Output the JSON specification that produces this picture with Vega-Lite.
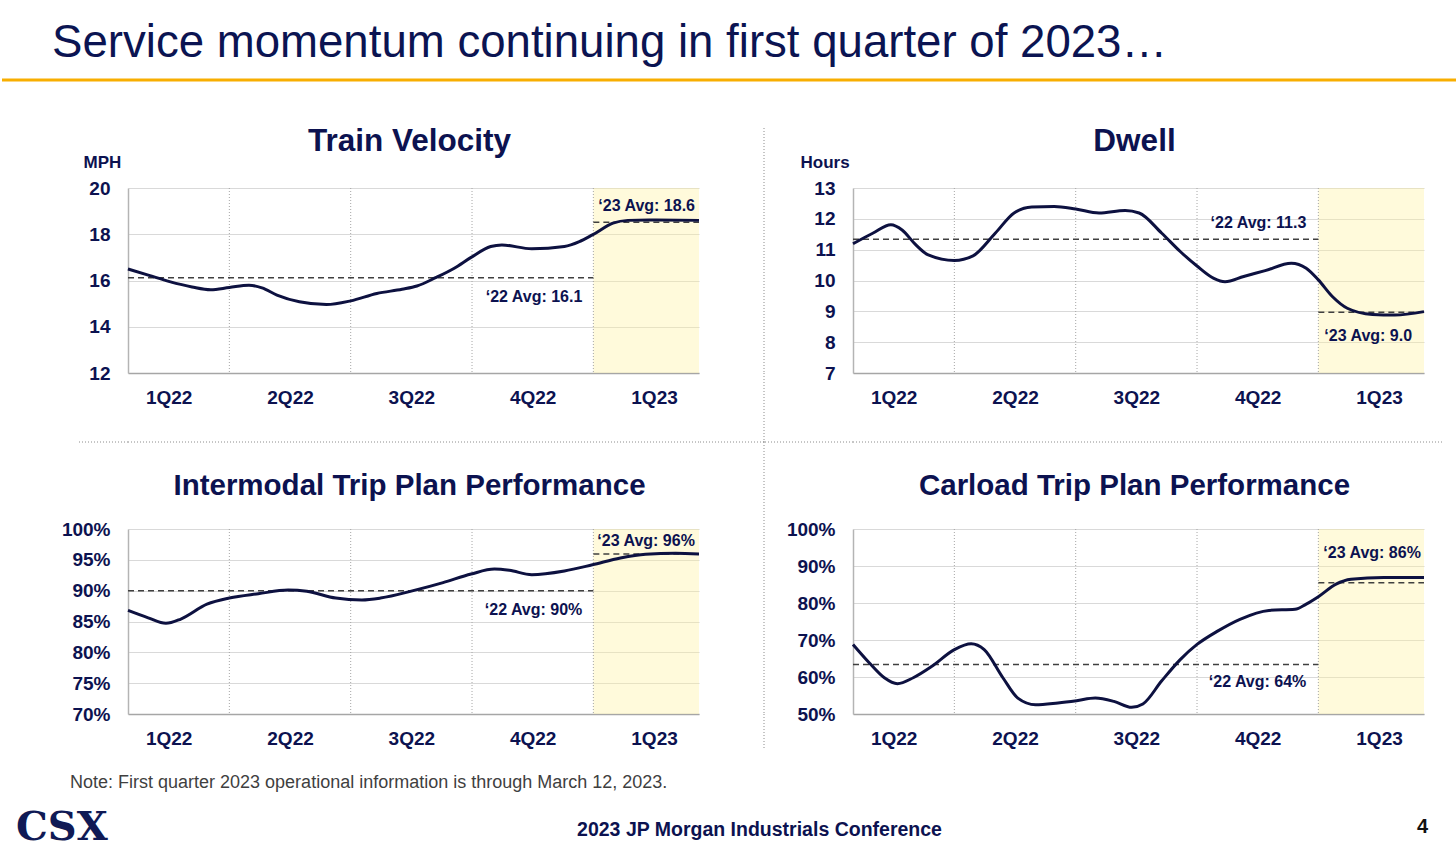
{
  "$schema": "https://vega.github.io/schema/vega-lite/v6.json",
  "padding": 0,
  "background": "white",
  "columns": 9,
  "spacing": 0,
  "bounds": "flush",
  "align": "each",
  "config": {
    "font": "Liberation Sans",
    "view": {"stroke": null},
    "title": {"frame": "group", "baseline": "alphabetic", "color": "#0c1250"},
    "axis": {"ticks": false, "labelFontSize": 19, "labelFontWeight": "bold", "labelColor": "#0c1250", "labelFlush": false, "labelOverlap": false, "domainWidth": 1.5},
    "axisX": {"grid": false, "domainColor": "#a6a6a6", "labelPadding": 15},
    "axisY": {"grid": true, "gridColor": "#d9d9d9", "gridWidth": 1, "domainColor": "#b4b4b4", "labelPadding": 18, "titleAngle": 0, "titleAlign": "left", "titleBaseline": "middle", "titleFontSize": 17, "titleFontWeight": "bold", "titleColor": "#0c1250"}
  },
  "datasets": {
    "quarters": [{"boundary": 13}, {"boundary": 26}, {"boundary": 39}, {"boundary": 52}],
    "shade": [{"period": "1Q23", "start": 52, "end": 63.32}],
    "vel": [
      {"week": 2.14, "value": 16.5}, {"week": 4.4, "value": 16.22}, {"week": 6.6, "value": 15.95}, {"week": 9.0, "value": 15.72},
      {"week": 11.0, "value": 15.6}, {"week": 13.0, "value": 15.7}, {"week": 15.1, "value": 15.8}, {"week": 16.5, "value": 15.68},
      {"week": 18.1, "value": 15.37}, {"week": 20.5, "value": 15.08}, {"week": 23.4, "value": 14.96}, {"week": 26.0, "value": 15.12},
      {"week": 28.8, "value": 15.44}, {"week": 31.5, "value": 15.62}, {"week": 33.1, "value": 15.76}, {"week": 35.1, "value": 16.12},
      {"week": 37.1, "value": 16.53}, {"week": 38.9, "value": 17.0}, {"week": 41.0, "value": 17.47}, {"week": 42.2, "value": 17.54},
      {"week": 45.4, "value": 17.37}, {"week": 48.9, "value": 17.47}, {"week": 50.5, "value": 17.68}, {"week": 51.9, "value": 17.97},
      {"week": 54.1, "value": 18.48}, {"week": 55.7, "value": 18.6}, {"week": 58.0, "value": 18.62}, {"week": 63.32, "value": 18.6}
    ],
    "vel_avg": [
      {"period": "2022", "label": "‘22 Avg: 16.1", "start": 2.14, "end": 52, "value": 16.12},
      {"period": "2023", "label": "‘23 Avg: 18.6", "start": 52, "end": 63.32, "value": 18.52}
    ],
    "dwell": [
      {"week": 2.14, "value": 11.19}, {"week": 4.3, "value": 11.54}, {"week": 6.2, "value": 11.81}, {"week": 7.4, "value": 11.64},
      {"week": 8.8, "value": 11.18}, {"week": 10.2, "value": 10.83}, {"week": 13.0, "value": 10.65}, {"week": 15.0, "value": 10.8},
      {"week": 17.4, "value": 11.54}, {"week": 19.4, "value": 12.19}, {"week": 21.3, "value": 12.38}, {"week": 23.7, "value": 12.4},
      {"week": 26.0, "value": 12.32}, {"week": 28.5, "value": 12.19}, {"week": 31.3, "value": 12.27}, {"week": 32.8, "value": 12.19},
      {"week": 35.2, "value": 11.54}, {"week": 37.2, "value": 10.94}, {"week": 39.0, "value": 10.47}, {"week": 40.8, "value": 10.07},
      {"week": 42.0, "value": 9.96}, {"week": 44.0, "value": 10.13}, {"week": 46.3, "value": 10.32}, {"week": 49.1, "value": 10.56},
      {"week": 50.7, "value": 10.4}, {"week": 52.0, "value": 10.02}, {"week": 53.5, "value": 9.48}, {"week": 55.1, "value": 9.1},
      {"week": 57.8, "value": 8.9}, {"week": 60.2, "value": 8.88}, {"week": 63.32, "value": 8.99}
    ],
    "dwell_avg": [
      {"period": "2022", "label": "‘22 Avg: 11.3", "start": 2.14, "end": 52, "value": 11.34},
      {"period": "2023", "label": "‘23 Avg: 9.0", "start": 52, "end": 63.32, "value": 8.97}
    ],
    "im": [
      {"week": 2.14, "value": 86.8}, {"week": 4.3, "value": 85.6}, {"week": 6.2, "value": 84.7}, {"week": 7.8, "value": 85.4},
      {"week": 10.6, "value": 87.8}, {"week": 13.0, "value": 88.8}, {"week": 16.1, "value": 89.5}, {"week": 19.3, "value": 90.1},
      {"week": 21.3, "value": 89.9}, {"week": 24.4, "value": 88.8}, {"week": 27.2, "value": 88.5}, {"week": 29.2, "value": 88.8},
      {"week": 32.7, "value": 90.0}, {"week": 35.9, "value": 91.3}, {"week": 38.9, "value": 92.7}, {"week": 41.4, "value": 93.5},
      {"week": 43.0, "value": 93.3}, {"week": 45.4, "value": 92.6}, {"week": 48.9, "value": 93.2}, {"week": 51.9, "value": 94.2},
      {"week": 54.9, "value": 95.3}, {"week": 57.6, "value": 95.9}, {"week": 60.8, "value": 96.05}, {"week": 63.32, "value": 95.95}
    ],
    "im_avg": [
      {"period": "2022", "label": "‘22 Avg: 90%", "start": 2.14, "end": 52, "value": 90.0},
      {"period": "2023", "label": "‘23 Avg: 96%", "start": 52, "end": 63.32, "value": 95.95}
    ],
    "cl": [
      {"week": 2.14, "value": 68.8}, {"week": 3.9, "value": 63.8}, {"week": 5.5, "value": 59.8}, {"week": 6.9, "value": 58.2},
      {"week": 8.6, "value": 59.8}, {"week": 10.6, "value": 62.9}, {"week": 13.0, "value": 67.4}, {"week": 14.8, "value": 69.0},
      {"week": 16.2, "value": 67.4}, {"week": 18.2, "value": 59.8}, {"week": 19.8, "value": 54.3}, {"week": 21.7, "value": 52.5},
      {"week": 24.1, "value": 53.0}, {"week": 26.1, "value": 53.6}, {"week": 28.1, "value": 54.3}, {"week": 30.1, "value": 53.4},
      {"week": 32.0, "value": 51.8}, {"week": 33.2, "value": 52.7}, {"week": 35.2, "value": 58.9}, {"week": 37.2, "value": 64.7},
      {"week": 39.0, "value": 68.8}, {"week": 41.2, "value": 72.4}, {"week": 43.6, "value": 75.6}, {"week": 46.7, "value": 78.0},
      {"week": 49.5, "value": 78.3}, {"week": 50.7, "value": 79.7}, {"week": 52.0, "value": 81.7}, {"week": 53.9, "value": 85.1},
      {"week": 55.5, "value": 86.4}, {"week": 59.0, "value": 86.9}, {"week": 63.32, "value": 86.9}
    ],
    "cl_avg": [
      {"period": "2022", "label": "‘22 Avg: 64%", "start": 2.14, "end": 52, "value": 63.4},
      {"period": "2023", "label": "‘23 Avg: 86%", "start": 52, "end": 63.32, "value": 85.5}
    ]
  },
  "concat": [
    {"width": 75, "height": 80, "data": {"values": [{"line": "header"}]}, "mark": {"type": "rule", "color": "#f8ae00", "strokeWidth": 3}, "encoding": {"y": {"datum": 0, "type": "quantitative", "scale": {"domain": [0, 1]}, "axis": null}},
     "title": {"text": "Service momentum continuing in first quarter of 2023…", "fontSize": 45.6, "fontWeight": "normal", "anchor": "start", "orient": "top", "baseline": "alphabetic", "offset": -102.6, "dx": 50, "color": "#0b1452"}},
    {"width": 51, "height": 80, "data": {"values": [{"line": "header"}]}, "mark": {"type": "rule", "color": "#f8ae00", "strokeWidth": 3}, "encoding": {"y": {"datum": 0, "type": "quantitative", "scale": {"domain": [0, 1]}, "axis": null}}},
    {"width": 571, "height": 80, "data": {"values": [{"line": "header"}]}, "mark": {"type": "rule", "color": "#f8ae00", "strokeWidth": 3}, "encoding": {"y": {"datum": 0, "type": "quantitative", "scale": {"domain": [0, 1]}, "axis": null}}},
    {"width": 65, "height": 80, "data": {"values": [{"line": "header"}]}, "mark": {"type": "rule", "color": "#f8ae00", "strokeWidth": 3}, "encoding": {"y": {"datum": 0, "type": "quantitative", "scale": {"domain": [0, 1]}, "axis": null}}},
    {"width": 1, "height": 80, "data": {"values": [{"line": "header"}]}, "mark": {"type": "rule", "color": "#f8ae00", "strokeWidth": 3}, "encoding": {"y": {"datum": 0, "type": "quantitative", "scale": {"domain": [0, 1]}, "axis": null}}},
    {"width": 88, "height": 80, "data": {"values": [{"line": "header"}]}, "mark": {"type": "rule", "color": "#f8ae00", "strokeWidth": 3}, "encoding": {"y": {"datum": 0, "type": "quantitative", "scale": {"domain": [0, 1]}, "axis": null}}},
    {"width": 571, "height": 80, "data": {"values": [{"line": "header"}]}, "mark": {"type": "rule", "color": "#f8ae00", "strokeWidth": 3}, "encoding": {"y": {"datum": 0, "type": "quantitative", "scale": {"domain": [0, 1]}, "axis": null}}},
    {"width": 18, "height": 80, "data": {"values": [{"line": "header"}]}, "mark": {"type": "rule", "color": "#f8ae00", "strokeWidth": 3}, "encoding": {"y": {"datum": 0, "type": "quantitative", "scale": {"domain": [0, 1]}, "axis": null}}},
    {"width": 16, "height": 80, "data": {"values": [{"line": "header"}]}, "mark": {"type": "rule", "color": "#f8ae00", "strokeWidth": 3}, "encoding": {"y": {"datum": 0, "type": "quantitative", "scale": {"domain": [0, 1]}, "axis": null}}},

    {"width": 1, "height": 1, "data": {"values": []}, "mark": "point"},
    {"width": 1, "height": 1, "data": {"values": []}, "mark": "point"},
    {"width": 1, "height": 1, "data": {"values": []}, "mark": "point"},
    {"width": 1, "height": 1, "data": {"values": []}, "mark": "point"},
    {"width": 1, "height": 48, "data": {"values": []}, "mark": "point"},
    {"width": 1, "height": 1, "data": {"values": []}, "mark": "point"},
    {"width": 1, "height": 1, "data": {"values": []}, "mark": "point"},
    {"width": 1, "height": 1, "data": {"values": []}, "mark": "point"},
    {"width": 1, "height": 1, "data": {"values": []}, "mark": "point"},

    {"width": 1, "height": 1, "data": {"values": []}, "mark": "point"},
    {"width": 1, "height": 1, "data": {"values": []}, "mark": "point"},
    {"width": 1, "height": 1, "data": {"values": []}, "mark": "point"},
    {"width": 1, "height": 1, "data": {"values": []}, "mark": "point"},
    {"width": 1, "height": 60, "data": {"values": [{"separator": "vertical"}]}, "mark": {"type": "rule", "color": "#8c8c8c", "strokeDash": [1, 2], "strokeWidth": 1}, "encoding": {"x": {"datum": 0, "type": "quantitative", "scale": {"domain": [0, 1]}, "axis": null}}},
    {"width": 1, "height": 1, "data": {"values": []}, "mark": "point"},
    {"width": 1, "height": 1, "data": {"values": []}, "mark": "point"},
    {"width": 1, "height": 1, "data": {"values": []}, "mark": "point"},
    {"width": 1, "height": 1, "data": {"values": []}, "mark": "point"},

    {"width": 1, "height": 1, "data": {"values": []}, "mark": "point"},
    {"width": 1, "height": 1, "data": {"values": []}, "mark": "point"},
    {
      "width": 571, "height": 185,
      "title": {"text": "Train Velocity", "fontSize": 31.5, "fontWeight": "bold", "anchor": "middle", "baseline": "alphabetic", "offset": -29, "dx": -4},
      "layer": [
        {"data": {"name": "shade"}, "mark": {"type": "rect", "color": "#fff3a0", "opacity": 0.38},
         "encoding": {"x": {"field": "start", "type": "quantitative", "scale": {"domain": [2.14, 63.32], "nice": false, "zero": false},
           "axis": {"title": null, "values": [6.5, 19.5, 32.5, 45.5, 58.5], "labelExpr": "['1Q22','2Q22','3Q22','4Q22','1Q23'][floor(datum.value/13)]"}},
           "x2": {"field": "end"}}},
        {"data": {"name": "quarters"}, "mark": {"type": "rule", "color": "#a6a6a6", "strokeDash": [1, 2], "strokeWidth": 1},
         "encoding": {"x": {"field": "boundary", "type": "quantitative"}}},
        {"data": {"name": "vel_avg"}, "mark": {"type": "rule", "color": "#404040", "strokeDash": [6, 4], "strokeWidth": 1.5},
         "encoding": {"x": {"field": "start", "type": "quantitative"}, "x2": {"field": "end"},
           "y": {"field": "value", "type": "quantitative", "scale": {"domain": [12, 20], "nice": false, "zero": false},
             "axis": {"title": "MPH", "titleX": -45, "titleY": -26, "values": [12, 14, 16, 18, 20], "tickCount": 20, "format": "d"}}}},
        {"data": {"name": "vel"}, "mark": {"type": "line", "color": "#0d1140", "strokeWidth": 3, "interpolate": "monotone"},
         "encoding": {"x": {"field": "week", "type": "quantitative"}, "y": {"field": "value", "type": "quantitative", "scale": {"domain": [12, 20], "nice": false, "zero": false}}}},
        {"data": {"name": "vel_avg"}, "transform": [{"filter": "datum.period == '2022'"}],
         "mark": {"type": "text", "align": "right", "baseline": "middle", "dx": -11, "dy": 19, "fontSize": 16, "fontWeight": "bold", "color": "#0c1250"},
         "encoding": {"x": {"field": "end", "type": "quantitative"}, "y": {"field": "value", "type": "quantitative"}, "text": {"field": "label"}}},
        {"data": {"name": "vel_avg"}, "transform": [{"filter": "datum.period == '2023'"}],
         "mark": {"type": "text", "align": "left", "baseline": "middle", "dx": 5, "dy": -16, "fontSize": 16, "fontWeight": "bold", "color": "#0c1250"},
         "encoding": {"x": {"field": "start", "type": "quantitative"}, "y": {"field": "value", "type": "quantitative"}, "text": {"field": "label"}}}
      ]
    },
    {"width": 1, "height": 1, "data": {"values": []}, "mark": "point"},
    {"width": 1, "height": 185, "data": {"values": [{"separator": "vertical"}]}, "mark": {"type": "rule", "color": "#8c8c8c", "strokeDash": [1, 2], "strokeWidth": 1}, "encoding": {"x": {"datum": 0, "type": "quantitative", "scale": {"domain": [0, 1]}, "axis": null}}},
    {"width": 1, "height": 1, "data": {"values": []}, "mark": "point"},
    {
      "width": 571, "height": 185,
      "title": {"text": "Dwell", "fontSize": 31.5, "fontWeight": "bold", "anchor": "middle", "baseline": "alphabetic", "offset": -29, "dx": -4},
      "layer": [
        {"data": {"name": "shade"}, "mark": {"type": "rect", "color": "#fff3a0", "opacity": 0.38},
         "encoding": {"x": {"field": "start", "type": "quantitative", "scale": {"domain": [2.14, 63.32], "nice": false, "zero": false},
           "axis": {"title": null, "values": [6.5, 19.5, 32.5, 45.5, 58.5], "labelExpr": "['1Q22','2Q22','3Q22','4Q22','1Q23'][floor(datum.value/13)]"}},
           "x2": {"field": "end"}}},
        {"data": {"name": "quarters"}, "mark": {"type": "rule", "color": "#a6a6a6", "strokeDash": [1, 2], "strokeWidth": 1},
         "encoding": {"x": {"field": "boundary", "type": "quantitative"}}},
        {"data": {"name": "dwell_avg"}, "mark": {"type": "rule", "color": "#404040", "strokeDash": [6, 4], "strokeWidth": 1.5},
         "encoding": {"x": {"field": "start", "type": "quantitative"}, "x2": {"field": "end"},
           "y": {"field": "value", "type": "quantitative", "scale": {"domain": [7, 13], "nice": false, "zero": false},
             "axis": {"title": "Hours", "titleX": -53, "titleY": -26, "values": [7, 8, 9, 10, 11, 12, 13], "tickCount": 20, "format": "d"}}}},
        {"data": {"name": "dwell"}, "mark": {"type": "line", "color": "#0d1140", "strokeWidth": 3, "interpolate": "monotone"},
         "encoding": {"x": {"field": "week", "type": "quantitative"}, "y": {"field": "value", "type": "quantitative", "scale": {"domain": [7, 13], "nice": false, "zero": false}}}},
        {"data": {"name": "dwell_avg"}, "transform": [{"filter": "datum.period == '2022'"}],
         "mark": {"type": "text", "align": "right", "baseline": "middle", "dx": -12, "dy": -16, "fontSize": 16, "fontWeight": "bold", "color": "#0c1250"},
         "encoding": {"x": {"field": "end", "type": "quantitative"}, "y": {"field": "value", "type": "quantitative"}, "text": {"field": "label"}}},
        {"data": {"name": "dwell_avg"}, "transform": [{"filter": "datum.period == '2023'"}],
         "mark": {"type": "text", "align": "left", "baseline": "middle", "dx": 6, "dy": 24, "fontSize": 16, "fontWeight": "bold", "color": "#0c1250"},
         "encoding": {"x": {"field": "start", "type": "quantitative"}, "y": {"field": "value", "type": "quantitative"}, "text": {"field": "label"}}}
      ]
    },
    {"width": 1, "height": 1, "data": {"values": []}, "mark": "point"},
    {"width": 1, "height": 1, "data": {"values": []}, "mark": "point"},

    {"width": 1, "height": 1, "data": {"values": []}, "mark": "point"},
    {"width": 1, "height": 1, "data": {"values": []}, "mark": "point"},
    {"width": 1, "height": 1, "data": {"values": []}, "mark": "point"},
    {"width": 1, "height": 1, "data": {"values": []}, "mark": "point"},
    {"width": 1, "height": 68, "data": {"values": [{"separator": "vertical"}]}, "mark": {"type": "rule", "color": "#8c8c8c", "strokeDash": [1, 2], "strokeWidth": 1}, "encoding": {"x": {"datum": 0, "type": "quantitative", "scale": {"domain": [0, 1]}, "axis": null}}},
    {"width": 1, "height": 1, "data": {"values": []}, "mark": "point"},
    {"width": 1, "height": 1, "data": {"values": []}, "mark": "point"},
    {"width": 1, "height": 1, "data": {"values": []}, "mark": "point"},
    {"width": 1, "height": 1, "data": {"values": []}, "mark": "point"},

    {"width": 1, "height": 1, "data": {"values": []}, "mark": "point"},
    {"width": 51, "height": 1, "data": {"values": [{"separator": "horizontal"}]}, "mark": {"type": "rule", "color": "#8c8c8c", "strokeDash": [1, 2], "strokeWidth": 1}, "encoding": {"y": {"datum": 0, "type": "quantitative", "scale": {"domain": [0, 1]}, "axis": null}}},
    {"width": 571, "height": 1, "data": {"values": [{"separator": "horizontal"}]}, "mark": {"type": "rule", "color": "#8c8c8c", "strokeDash": [1, 2], "strokeWidth": 1}, "encoding": {"y": {"datum": 0, "type": "quantitative", "scale": {"domain": [0, 1]}, "axis": null}}},
    {"width": 65, "height": 1, "data": {"values": [{"separator": "horizontal"}]}, "mark": {"type": "rule", "color": "#8c8c8c", "strokeDash": [1, 2], "strokeWidth": 1}, "encoding": {"y": {"datum": 0, "type": "quantitative", "scale": {"domain": [0, 1]}, "axis": null}}},
    {"width": 1, "height": 1, "data": {"values": [{"separator": "vertical"}]}, "mark": {"type": "rule", "color": "#8c8c8c", "strokeDash": [1, 2], "strokeWidth": 1}, "encoding": {"x": {"datum": 0, "type": "quantitative", "scale": {"domain": [0, 1]}, "axis": null}}},
    {"width": 88, "height": 1, "data": {"values": [{"separator": "horizontal"}]}, "mark": {"type": "rule", "color": "#8c8c8c", "strokeDash": [1, 2], "strokeWidth": 1}, "encoding": {"y": {"datum": 0, "type": "quantitative", "scale": {"domain": [0, 1]}, "axis": null}}},
    {"width": 571, "height": 1, "data": {"values": [{"separator": "horizontal"}]}, "mark": {"type": "rule", "color": "#8c8c8c", "strokeDash": [1, 2], "strokeWidth": 1}, "encoding": {"y": {"datum": 0, "type": "quantitative", "scale": {"domain": [0, 1]}, "axis": null}}},
    {"width": 18, "height": 1, "data": {"values": [{"separator": "horizontal"}]}, "mark": {"type": "rule", "color": "#8c8c8c", "strokeDash": [1, 2], "strokeWidth": 1}, "encoding": {"y": {"datum": 0, "type": "quantitative", "scale": {"domain": [0, 1]}, "axis": null}}},
    {"width": 1, "height": 1, "data": {"values": []}, "mark": "point"},

    {"width": 1, "height": 1, "data": {"values": []}, "mark": "point"},
    {"width": 1, "height": 1, "data": {"values": []}, "mark": "point"},
    {"width": 1, "height": 1, "data": {"values": []}, "mark": "point"},
    {"width": 1, "height": 1, "data": {"values": []}, "mark": "point"},
    {"width": 1, "height": 87, "data": {"values": [{"separator": "vertical"}]}, "mark": {"type": "rule", "color": "#8c8c8c", "strokeDash": [1, 2], "strokeWidth": 1}, "encoding": {"x": {"datum": 0, "type": "quantitative", "scale": {"domain": [0, 1]}, "axis": null}}},
    {"width": 1, "height": 1, "data": {"values": []}, "mark": "point"},
    {"width": 1, "height": 1, "data": {"values": []}, "mark": "point"},
    {"width": 1, "height": 1, "data": {"values": []}, "mark": "point"},
    {"width": 1, "height": 1, "data": {"values": []}, "mark": "point"},

    {"width": 1, "height": 1, "data": {"values": []}, "mark": "point"},
    {"width": 1, "height": 1, "data": {"values": []}, "mark": "point"},
    {
      "width": 571, "height": 185,
      "title": {"text": "Intermodal Trip Plan Performance", "fontSize": 29.5, "fontWeight": "bold", "anchor": "middle", "baseline": "alphabetic", "offset": -4, "dx": -4},
      "layer": [
        {"data": {"name": "shade"}, "mark": {"type": "rect", "color": "#fff3a0", "opacity": 0.38},
         "encoding": {"x": {"field": "start", "type": "quantitative", "scale": {"domain": [2.14, 63.32], "nice": false, "zero": false},
           "axis": {"title": null, "values": [6.5, 19.5, 32.5, 45.5, 58.5], "labelExpr": "['1Q22','2Q22','3Q22','4Q22','1Q23'][floor(datum.value/13)]"}},
           "x2": {"field": "end"}}},
        {"data": {"name": "quarters"}, "mark": {"type": "rule", "color": "#a6a6a6", "strokeDash": [1, 2], "strokeWidth": 1},
         "encoding": {"x": {"field": "boundary", "type": "quantitative"}}},
        {"data": {"name": "im_avg"}, "mark": {"type": "rule", "color": "#404040", "strokeDash": [6, 4], "strokeWidth": 1.5},
         "encoding": {"x": {"field": "start", "type": "quantitative"}, "x2": {"field": "end"},
           "y": {"field": "value", "type": "quantitative", "scale": {"domain": [70, 100], "nice": false, "zero": false},
             "axis": {"title": null, "values": [70, 75, 80, 85, 90, 95, 100], "tickCount": 20, "labelExpr": "datum.value + '%'"}}}},
        {"data": {"name": "im"}, "mark": {"type": "line", "color": "#0d1140", "strokeWidth": 3, "interpolate": "monotone"},
         "encoding": {"x": {"field": "week", "type": "quantitative"}, "y": {"field": "value", "type": "quantitative", "scale": {"domain": [70, 100], "nice": false, "zero": false}}}},
        {"data": {"name": "im_avg"}, "transform": [{"filter": "datum.period == '2022'"}],
         "mark": {"type": "text", "align": "right", "baseline": "middle", "dx": -11, "dy": 19, "fontSize": 16, "fontWeight": "bold", "color": "#0c1250"},
         "encoding": {"x": {"field": "end", "type": "quantitative"}, "y": {"field": "value", "type": "quantitative"}, "text": {"field": "label"}}},
        {"data": {"name": "im_avg"}, "transform": [{"filter": "datum.period == '2023'"}],
         "mark": {"type": "text", "align": "left", "baseline": "middle", "dx": 4, "dy": -13, "fontSize": 16, "fontWeight": "bold", "color": "#0c1250"},
         "encoding": {"x": {"field": "start", "type": "quantitative"}, "y": {"field": "value", "type": "quantitative"}, "text": {"field": "label"}}}
      ]
    },
    {"width": 1, "height": 1, "data": {"values": []}, "mark": "point"},
    {"width": 1, "height": 185, "data": {"values": [{"separator": "vertical"}]}, "mark": {"type": "rule", "color": "#8c8c8c", "strokeDash": [1, 2], "strokeWidth": 1}, "encoding": {"x": {"datum": 0, "type": "quantitative", "scale": {"domain": [0, 1]}, "axis": null}}},
    {"width": 1, "height": 1, "data": {"values": []}, "mark": "point"},
    {
      "width": 571, "height": 185,
      "title": {"text": "Carload Trip Plan Performance", "fontSize": 29.5, "fontWeight": "bold", "anchor": "middle", "baseline": "alphabetic", "offset": -4, "dx": -4},
      "layer": [
        {"data": {"name": "shade"}, "mark": {"type": "rect", "color": "#fff3a0", "opacity": 0.38},
         "encoding": {"x": {"field": "start", "type": "quantitative", "scale": {"domain": [2.14, 63.32], "nice": false, "zero": false},
           "axis": {"title": null, "values": [6.5, 19.5, 32.5, 45.5, 58.5], "labelExpr": "['1Q22','2Q22','3Q22','4Q22','1Q23'][floor(datum.value/13)]"}},
           "x2": {"field": "end"}}},
        {"data": {"name": "quarters"}, "mark": {"type": "rule", "color": "#a6a6a6", "strokeDash": [1, 2], "strokeWidth": 1},
         "encoding": {"x": {"field": "boundary", "type": "quantitative"}}},
        {"data": {"name": "cl_avg"}, "mark": {"type": "rule", "color": "#404040", "strokeDash": [6, 4], "strokeWidth": 1.5},
         "encoding": {"x": {"field": "start", "type": "quantitative"}, "x2": {"field": "end"},
           "y": {"field": "value", "type": "quantitative", "scale": {"domain": [50, 100], "nice": false, "zero": false},
             "axis": {"title": null, "values": [50, 60, 70, 80, 90, 100], "tickCount": 20, "labelExpr": "datum.value + '%'"}}}},
        {"data": {"name": "cl"}, "mark": {"type": "line", "color": "#0d1140", "strokeWidth": 3, "interpolate": "monotone"},
         "encoding": {"x": {"field": "week", "type": "quantitative"}, "y": {"field": "value", "type": "quantitative", "scale": {"domain": [50, 100], "nice": false, "zero": false}}}},
        {"data": {"name": "cl_avg"}, "transform": [{"filter": "datum.period == '2022'"}],
         "mark": {"type": "text", "align": "right", "baseline": "middle", "dx": -12, "dy": 18, "fontSize": 16, "fontWeight": "bold", "color": "#0c1250"},
         "encoding": {"x": {"field": "end", "type": "quantitative"}, "y": {"field": "value", "type": "quantitative"}, "text": {"field": "label"}}},
        {"data": {"name": "cl_avg"}, "transform": [{"filter": "datum.period == '2023'"}],
         "mark": {"type": "text", "align": "left", "baseline": "middle", "dx": 5, "dy": -30, "fontSize": 16, "fontWeight": "bold", "color": "#0c1250"},
         "encoding": {"x": {"field": "start", "type": "quantitative"}, "y": {"field": "value", "type": "quantitative"}, "text": {"field": "label"}}}
      ]
    },
    {"width": 1, "height": 1, "data": {"values": []}, "mark": "point"},
    {"width": 1, "height": 1, "data": {"values": []}, "mark": "point"},

    {"width": 1, "height": 1, "data": {"values": []}, "mark": "point"},
    {"width": 1, "height": 1, "data": {"values": []}, "mark": "point"},
    {"width": 1, "height": 1, "data": {"values": []}, "mark": "point"},
    {"width": 1, "height": 1, "data": {"values": []}, "mark": "point"},
    {"width": 1, "height": 34, "data": {"values": [{"separator": "vertical"}]}, "mark": {"type": "rule", "color": "#8c8c8c", "strokeDash": [1, 2], "strokeWidth": 1}, "encoding": {"x": {"datum": 0, "type": "quantitative", "scale": {"domain": [0, 1]}, "axis": null}}},
    {"width": 1, "height": 1, "data": {"values": []}, "mark": "point"},
    {"width": 1, "height": 1, "data": {"values": []}, "mark": "point"},
    {"width": 1, "height": 1, "data": {"values": []}, "mark": "point"},
    {"width": 1, "height": 1, "data": {"values": []}, "mark": "point"},

    {"width": 1, "height": 1, "data": {"values": []}, "mark": "point",
     "title": {"text": "CSX", "orient": "bottom", "anchor": "start", "baseline": "alphabetic", "dx": 14, "offset": 91, "font": "DejaVu Serif", "fontSize": 40, "fontWeight": "bold", "color": "#101a55"}},
    {"width": 1, "height": 1, "data": {"values": []}, "mark": "point",
     "title": {"text": "Note: First quarter 2023 operational information is through March 12, 2023.", "orient": "bottom", "anchor": "start", "baseline": "alphabetic", "dx": -7, "offset": 39, "fontSize": 18, "fontWeight": "normal", "color": "#3f3f3f"}},
    {"width": 1, "height": 1, "data": {"values": []}, "mark": "point"},
    {"width": 1, "height": 1, "data": {"values": []}, "mark": "point"},
    {"width": 1, "height": 1, "data": {"values": []}, "mark": "point",
     "title": {"text": "2023 JP Morgan Industrials Conference", "orient": "bottom", "anchor": "middle", "baseline": "alphabetic", "dx": -5, "offset": 87, "fontSize": 19.5, "fontWeight": "bold", "color": "#0c1250"}},
    {"width": 1, "height": 1, "data": {"values": []}, "mark": "point"},
    {"width": 1, "height": 1, "data": {"values": []}, "mark": "point"},
    {"width": 18, "height": 1, "data": {"values": []}, "mark": "point",
     "title": {"text": "4", "orient": "bottom", "anchor": "end", "baseline": "alphabetic", "dx": -14, "offset": 84, "fontSize": 20, "fontWeight": "bold", "color": "#111111"}},
    {"width": 1, "height": 1, "data": {"values": []}, "mark": "point"}
  ]
}
